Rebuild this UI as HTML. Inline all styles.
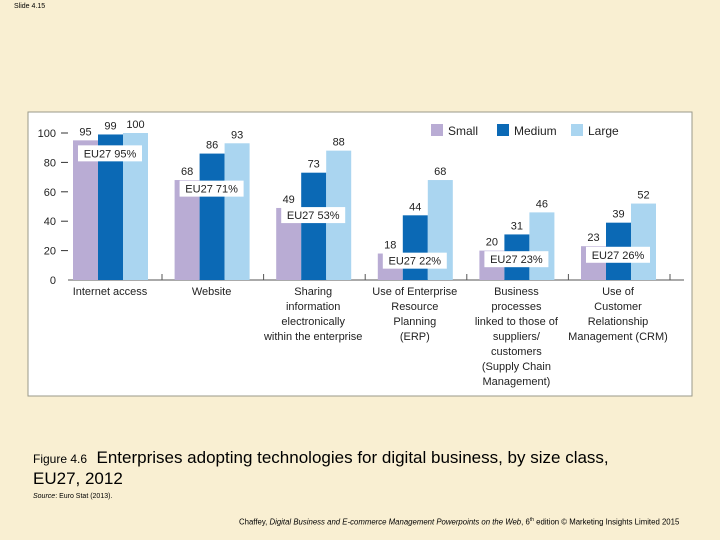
<!DOCTYPE html>
<html><head><meta charset="utf-8"><style>
body{margin:0;width:720px;height:540px;background:#f9efd2;font-family:"Liberation Sans",sans-serif;overflow:hidden;position:relative}
.t{position:absolute;white-space:nowrap;color:#000}
</style></head><body>
<div class="t" style="left:14px;top:3px;font-size:7px">Slide 4.15</div>
<svg id="chart" width="720" height="540" style="position:absolute;left:0;top:0" font-family="Liberation Sans, sans-serif">
<rect x="28" y="112" width="664" height="284" fill="#fff" stroke="#9a9a8a" stroke-width="1"/>
</svg>
<div class="t" style="left:33px;top:448px;font-size:17px;line-height:20px"><span style="font-size:12px">Figure 4.6</span>&nbsp; Enterprises adopting technologies for digital business, by size class,<br>EU27, 2012</div>
<div class="t" style="left:33px;top:493px;font-size:7px"><i>Source</i>: Euro Stat (2013).</div>
<div class="t" style="left:239px;top:517px;font-size:7.8px">Chaffey, <i>Digital Business and E-commerce Management Powerpoints on the Web</i>, 6<sup style="font-size:5px">th</sup> edition © Marketing Insights Limited 2015</div>
<script>
const categories=[["Internet access"],["Website"],["Sharing","information","electronically","within the enterprise"],["Use of Enterprise","Resource","Planning","(ERP)"],["Business","processes","linked to those of","suppliers/","customers","(Supply Chain","Management)"],["Use of","Customer","Relationship","Management (CRM)"]];
const small=[95,68,49,18,20,23];
const medium=[99,86,73,44,31,39];
const large=[100,93,88,68,46,52];
const eu27=[95,71,53,22,23,26];
const yTicks=[0,20,40,60,80,100];
const seriesNames=["Small","Medium","Large"];
const colors=["#b9acd4","#0b69b5","#aad5f0"];
const svg=document.getElementById('chart');
const NS="http://www.w3.org/2000/svg";
const y0=280,yTop=133;
function y(v){return y0-(y0-yTop)*v/100;}
function gx(i){return 73+i*101.6;}
function mk(tag,a){const e=document.createElementNS(NS,tag);for(const k in a)e.setAttribute(k,a[k]);svg.appendChild(e);return e;}
function txt(x,yy,s,size,anchor){const e=mk('text',{x:x,y:yy,'font-size':size,'text-anchor':anchor||'middle',fill:'#222'});e.textContent=s;return e;}
yTicks.forEach(v=>{
 const t=txt(56,y(v)+4,String(v),11,'end');
 
 
 if(v>0){const l=mk('line',{x1:61,x2:68,y1:y(v),y2:y(v),stroke:'#333'});
 
 }
});
const ax=mk('line',{x1:68,x2:684,y1:y0,y2:y0,stroke:'#555','stroke-width':1});


const series=[small,medium,large];
categories.forEach((c,i)=>{
 series.forEach((s,j)=>{
  const x=gx(i)+j*25;
  const r=mk('rect',{x:x,y:y(s[i]),width:25,height:y0-y(s[i]),fill:colors[j]});
  
  
  const t=txt(x+12.5,y(s[i])-5,String(s[i]),11);
  
  
 });
 const sep=mk('line',{x1:gx(i)+89,x2:gx(i)+89,y1:y0,y2:y0-6,stroke:'#555'});
 
 
 const by=Math.min(y(eu27[i])+5,y0-25);
 const b=mk('rect',{x:gx(i)+5,y:by,width:64,height:16,fill:'#fff'});
 
 
 const et=txt(gx(i)+37,by+12,'EU27 '+eu27[i]+'%',11);
 
 
 c.forEach((line,k)=>{
  const ct=txt(gx(i)+37,295+k*15,line,11);
  
  
 });
});
const lx=[431,497,571];
seriesNames.forEach((n,j)=>{
 const r=mk('rect',{x:lx[j],y:124,width:12,height:12,fill:colors[j]});
 
 
 const t=txt(lx[j]+17,135,n,12,'start');
 
 
});
</script>
</body></html>
